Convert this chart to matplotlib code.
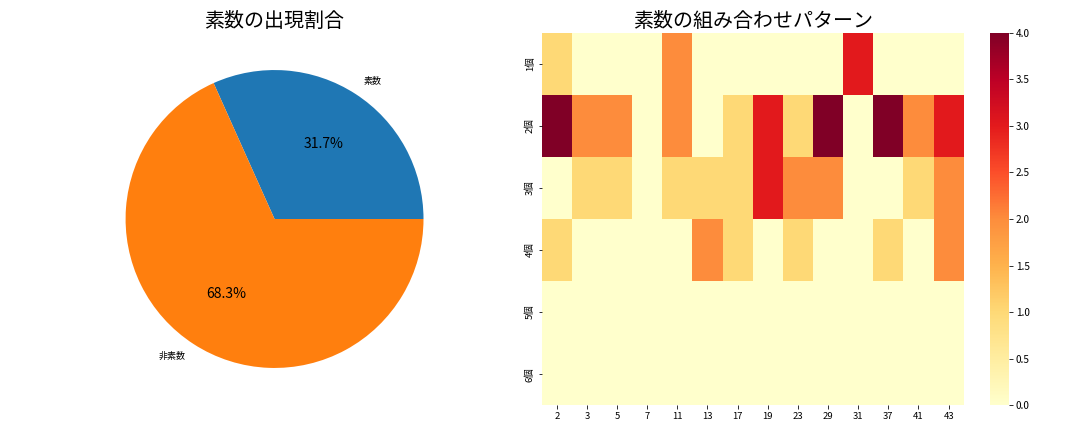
import numpy as np
import pandas as pd
import matplotlib
matplotlib.use("Agg")
import matplotlib.pyplot as plt
import seaborn as sns

plt.rcParams['font.family'] = ['Noto Sans CJK JP', 'DejaVu Sans']

# pie data
pie_labels = ["素数", "非素数"]
pie_counts = [13, 28]

# heatmap data
primes = [2, 3, 5, 7, 11, 13, 17, 19, 23, 29, 31, 37, 41, 43]
row_labels = ["1個", "2個", "3個", "4個", "5個", "6個"]
row1 = [1, 0, 0, 0, 2, 0, 0, 0, 0, 0, 3, 0, 0, 0]
row2 = [4, 2, 2, 0, 2, 0, 1, 3, 1, 4, 0, 4, 2, 3]
row3 = [0, 1, 1, 0, 1, 1, 1, 3, 2, 2, 0, 0, 1, 2]
row4 = [1, 0, 0, 0, 0, 2, 1, 0, 1, 0, 0, 1, 0, 2]
row5 = [0] * 14
row6 = [0] * 14

df = pd.DataFrame([row1, row2, row3, row4, row5, row6], index=row_labels, columns=primes)

fig, (ax1, ax2) = plt.subplots(1, 2, figsize=(15, 6), dpi=72)

ax1.pie(pie_counts, labels=pie_labels, autopct='%1.1f%%',
        textprops={'fontsize': 9})
for t in ax1.texts:
    if '%' in t.get_text():
        t.set_fontsize(14)
ax1.set_title("素数の出現割合", fontsize=20)

sns.heatmap(df, cmap="YlOrRd", ax=ax2)
ax2.set_title("素数の組み合わせパターン", fontsize=20)
ax2.tick_params(labelsize=9.5)

plt.tight_layout()
plt.savefig("out.png")
